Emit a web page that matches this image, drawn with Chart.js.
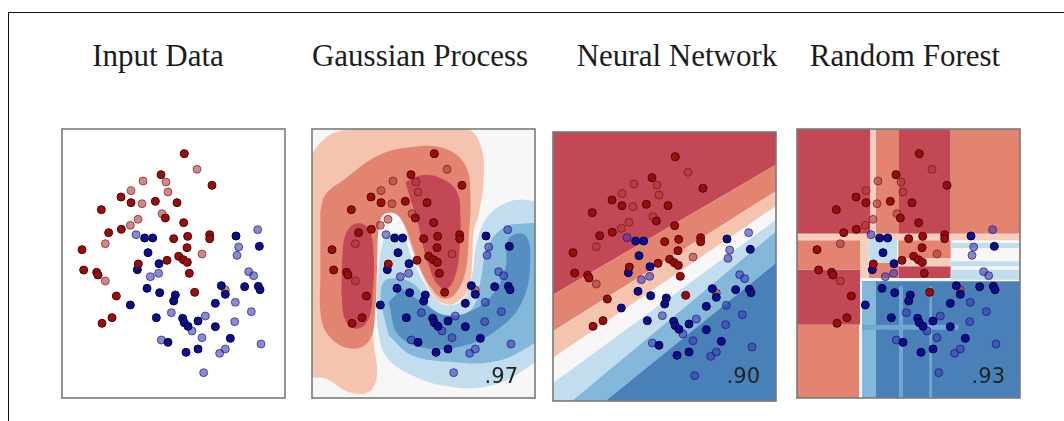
<!DOCTYPE html>
<html lang="en">
<head>
<meta charset="UTF-8">
<title>Classifier comparison</title>
<script src="https://cdn.jsdelivr.net/npm/chart.js"></script>
<style>
  body { margin: 0; background: #fff; width: 1064px; height: 421px; overflow: hidden; position: relative; }
  .frame { position: absolute; left: 8px; top: 12px; right: -2px; bottom: -2px; border-top: 1px solid #111; border-left: 1px solid #111; }
  .title { position: absolute; top: 41px; width: 300px; margin-left: -150px; text-align: center;
           font-family: "Liberation Serif", serif; font-size: 31px; line-height: 30px; color: #1c1c1c; white-space: nowrap; }
  .panel { position: absolute; width: 227px; height: 273px; }
  .score { position: absolute; top: 366px; font-family: "DejaVu Sans", sans-serif; font-size: 21px; line-height: 20px; color: #222; }
</style>
</head>
<body>
<div class="frame"></div>

<div class="title" style="left:158px">Input Data</div>
<div class="title" style="left:420px">Gaussian Process</div>
<div class="title" style="left:677px">Neural Network</div>
<div class="title" style="left:905px">Random Forest</div>

<div class="panel" style="left:60px; top:127px"><canvas id="inputChart"></canvas></div>
<div class="panel" style="left:310px; top:127px"><canvas id="gpChart"></canvas></div>
<div class="panel" style="left:551px; top:130px"><canvas id="nnChart"></canvas></div>
<div class="panel" style="left:795px; top:127px"><canvas id="rfChart"></canvas></div>

<div class="score" style="right:546px">.97</div>
<div class="score" style="right:304px">.90</div>
<div class="score" style="right:59px">.93</div>

<script>
    // points (same data set in every panel)
    const redTrain = [[3.67,7.33],[4.50,6.38],[2.97,6.70],[1.77,6.03],[2.07,5.86],[2.80,5.90],[3.45,5.86],[1.18,5.65],
        [3.10,5.40],[3.65,5.26],[1.78,5.06],[1.40,4.96],[0.60,4.45],[3.35,4.78],[3.77,4.85],[4.43,4.90],[4.43,4.78],
        [3.75,4.51],[3.50,4.25],[3.64,4.15],[3.76,4.07],[2.29,4.02],[3.15,4.13],[0.65,3.84],[1.04,3.77],[1.08,3.69],
        [3.82,3.74],[1.63,3.06],[3.98,3.17],[1.50,2.41],[1.20,2.24]];
    const redTest = [[4.05,6.86],[3.12,6.48],[3.18,6.18],[2.43,6.51],[2.07,6.22],[2.40,5.83],[3.00,5.53],[2.28,5.36],
        [2.05,5.18],[1.30,4.63],[4.20,4.32],[1.30,3.51],[4.90,3.24]];
    const blueTrain = [[2.48,4.80],[2.72,4.80],[2.58,4.36],[5.22,4.86],[5.92,4.55],[2.91,4.03],[2.26,3.85],[2.55,3.29],
        [2.93,3.16],[3.40,3.09],[3.35,2.91],[4.78,3.37],[4.90,3.11],[5.48,3.34],[5.89,3.35],[5.94,3.25],[2.05,2.79],
        [4.60,2.84],[2.83,2.41],[3.62,2.39],[3.67,2.26],[3.78,2.15],[4.08,2.31],[4.60,2.14],[3.18,1.67],[5.05,1.79],
        [3.72,1.37],[4.08,1.47]];
    const blueTest = [[2.22,4.90],[5.87,5.05],[5.30,4.53],[5.25,4.28],[2.65,3.64],[2.90,3.74],[5.60,3.79],[5.75,3.67],
        [5.20,2.87],[3.28,2.56],[4.30,2.46],[3.90,2.01],[5.18,2.29],[5.68,2.59],[2.98,1.74],[4.20,1.81],[5.97,1.62],
        [4.73,1.34],[4.90,1.47],[4.25,0.76]];

    // Gaussian process contour regions
    const gpPeach = [[-0.2,6.9],[0.2,7.6],[0.8,8.0],[2.5,8.2],[4.6,8.1],[5.05,7.6],[5.15,6.6],[5.0,5.5],[4.85,5.0],
        [4.8,4.0],[4.7,3.3],[4.45,2.95],[4.1,2.8],[3.7,3.0],[3.35,3.6],[3.1,4.2],[2.9,4.75],[2.7,5.3],[2.4,5.63],
        [2.1,5.58],[1.95,5.08],[1.9,3.88],[1.85,2.88],[1.85,1.68],[1.95,0.68],[1.7,0.18],[1.1,0.18],[0.4,0.58],[-0.2,0.6]];
    const gpSalmon = [[0.25,5.58],[0.4,6.1],[1.0,6.58],[2.0,7.28],[3.0,7.53],[4.0,7.48],[4.6,6.98],[4.75,6.08],
        [4.7,4.78],[4.6,3.78],[4.3,3.13],[3.95,2.98],[3.6,3.28],[3.25,3.88],[3.0,4.58],[2.78,5.18],[2.5,5.53],
        [2.15,5.5],[2.0,5.08],[1.95,3.88],[1.9,2.68],[1.75,1.78],[1.3,1.48],[0.7,1.68],[0.3,2.28],[0.25,3.9]];
    const gpRedLeft = [[0.9,4.08],[1.0,4.88],[1.3,5.23],[1.7,5.08],[1.85,4.28],[1.83,3.28],[1.7,2.38],[1.35,2.08],
        [1.0,2.33],[0.88,3.18]];
    const gpRedRight = [[2.8,6.48],[3.3,6.68],[3.9,6.58],[4.35,6.18],[4.45,5.48],[4.43,4.48],[4.3,3.68],[4.05,3.28],
        [3.75,3.43],[3.5,3.98],[3.3,4.68],[3.15,5.38],[2.95,5.98]];
    const gpBlueLight = [[1.95,3.38],[2.1,4.6],[2.3,4.88],[2.7,4.88],[3.0,4.18],[3.3,3.58],[3.7,2.98],[4.1,2.78],
        [4.55,2.98],[4.8,3.68],[4.95,4.68],[5.3,5.48],[5.9,5.88],[6.5,5.93],[7.0,5.68],[7.0,1.48],[6.4,0.88],
        [5.4,0.38],[4.2,0.33],[3.0,0.68],[2.2,1.28],[1.95,2.18]];
    const gpBlueMid = [[2.05,2.88],[2.15,3.48],[2.6,3.58],[3.1,3.38],[3.6,2.68],[4.2,2.48],[4.8,2.68],[5.05,3.48],
        [5.25,4.48],[5.7,5.08],[6.3,5.23],[7.0,5.08],[7.0,2.08],[6.4,1.48],[5.4,1.08],[4.2,1.08],[3.0,1.28],[2.3,1.88]];
    const gpBlueDark = [[2.3,2.88],[2.6,1.88],[3.5,1.48],[4.6,1.58],[5.6,2.08],[6.3,2.88],[6.55,4.08],[6.4,4.88],
        [5.9,4.78],[5.8,3.88],[5.4,3.08],[4.7,2.58],[4.0,2.48],[3.3,2.88],[2.7,3.28]];

    // neural network: band boundaries, y at the left and right edge of the panel
    const nnEdgeX = [0, 6.69];
    const nnBounds = [[3.19,7.09],[2.09,6.29],[1.29,5.84],[0.54,5.44],[-0.47,5.09],[-1.27,4.14]];

    // random forest cells [x0, x1, y0, y1]
    const rfDarkRed = [[0,2.20,4.93,8.2],[3.04,4.61,4.93,8.2],[0,1.89,2.20,3.85],[3.04,4.61,3.60,3.95]];
    const rfSalmon = [[2.36,3.04,4.93,8.2],[4.61,6.8,4.93,8.2],[0,1.89,3.85,4.73],[0,1.86,-0.1,2.20],
        [3.04,4.61,4.20,4.73],[2.15,3.04,3.60,4.05]];
    const rfPale = [[2.20,2.36,4.93,8.2],[0,6.8,4.73,4.93],[3.04,4.61,3.95,4.20],[1.89,2.15,3.60,4.73]];
    const rfLight = [[2.15,3.0,4.05,4.75],[4.61,6.8,4.50,4.65],[4.61,6.8,3.95,4.10],[4.61,6.8,3.55,3.85],
        [1.95,4.61,3.35,3.50]];
    const rfDarkBlue = [[1.95,6.8,-0.1,3.50]];
    const rfMidBlue = [[1.95,2.37,-0.1,3.50]];
    const rfStripes = [[3.06,3.18,-0.1,3.35],[3.97,4.05,-0.1,3.35],[1.95,4.84,2.05,2.20]];

    const col = {
        darkRed: 'rgb(195,72,86)', salmon: 'rgb(226,132,112)', peach: 'rgb(245,196,175)', pale: 'rgb(246,206,190)',
        white: 'rgb(247,247,247)', lightBlue: 'rgb(194,221,237)', midBlue: 'rgb(132,184,219)',
        darkBlue: 'rgb(74,128,184)', gpDarkBlue: 'rgb(86,142,194)', stripe: 'rgb(112,166,208)'
    };

    const toPts = arr => arr.map(([x, y]) => ({x, y}));
    const rectPts = ([x0, x1, y0, y1]) => [[x0, y0], [x1, y0], [x1, y1], [x0, y1]];
    const whole = [[-1, -1], [8, -1], [8, 9], [-1, 9]];

    const borderPlugin = {
        id: 'panelBorder',
        afterDraw(chart) {
            const {ctx, chartArea: a} = chart;
            ctx.save();
            ctx.strokeStyle = '#7a7a7a';
            ctx.lineWidth = 1.6;
            ctx.strokeRect(a.left, a.top, a.width, a.height);
            ctx.restore();
        }
    };

    function pointSets() {
        const s = (data, fill, edge) => ({data: toPts(data), backgroundColor: fill, borderColor: edge,
            pointRadius: 4, borderWidth: 1, order: 0});
        return [
            s(redTrain, 'rgb(150,14,14)', 'rgb(85,0,0)'),
            s(blueTrain, 'rgb(12,12,140)', 'rgb(0,0,70)'),
            s(redTest, 'rgba(175,55,55,0.6)', 'rgba(110,10,10,0.6)'),
            s(blueTest, 'rgba(60,60,180,0.6)', 'rgba(10,10,110,0.6)')
        ];
    }

    function makePanel(id, regions) {
        const sets = pointSets();
        regions.forEach((r, i) => sets.push({
            data: toPts(r.pts), showLine: true, fill: 'shape', backgroundColor: r.color,
            borderWidth: 0, pointRadius: 0, pointHoverRadius: 0, tension: r.tension || 0,
            order: regions.length - i + 1
        }));
        new Chart(document.getElementById(id), {
            type: 'scatter',
            data: {datasets: sets},
            options: {
                responsive: true,
                maintainAspectRatio: false,
                animation: false,
                events: [],
                layout: {padding: 2, autoPadding: false},
                plugins: {legend: {display: false}, tooltip: {enabled: false}},
                scales: {
                    x: {type: 'linear', min: 0, max: 6.69, display: false},
                    y: {type: 'linear', min: 0, max: 8.07, display: false}
                }
            },
            plugins: [borderPlugin]
        });
    }

    // 1. Input data
    makePanel('inputChart', []);

    // 2. Gaussian process
    makePanel('gpChart', [
        {pts: whole, color: col.white},
        {pts: gpPeach, color: col.peach, tension: 0.4},
        {pts: gpSalmon, color: col.salmon, tension: 0.4},
        {pts: gpRedLeft, color: col.darkRed, tension: 0.4},
        {pts: gpRedRight, color: col.darkRed, tension: 0.4},
        {pts: gpBlueLight, color: col.lightBlue, tension: 0.4},
        {pts: gpBlueMid, color: col.midBlue, tension: 0.4},
        {pts: gpBlueDark, color: col.gpDarkBlue, tension: 0.4}
    ]);

    // 3. Neural network
    const nnColors = [col.darkRed, col.salmon, col.peach, col.white, col.lightBlue, col.midBlue, col.darkBlue];
    const nnRegions = nnColors.map((c, k) => {
        const up = k === 0 ? [9, 9] : nnBounds[k - 1];
        const lo = k === nnBounds.length ? [-3, -3] : nnBounds[k];
        return {pts: [[nnEdgeX[0], up[0]], [nnEdgeX[1], up[1]], [nnEdgeX[1], lo[1]], [nnEdgeX[0], lo[0]]], color: c};
    });
    makePanel('nnChart', nnRegions);

    // 4. Random forest
    const rfRegions = [{pts: whole, color: col.white}];
    const addCells = (cells, c) => cells.forEach(cell => rfRegions.push({pts: rectPts(cell), color: c}));
    addCells(rfDarkRed, col.darkRed);
    addCells(rfSalmon, col.salmon);
    addCells(rfPale, col.pale);
    addCells(rfLight, col.lightBlue);
    addCells(rfDarkBlue, col.darkBlue);
    addCells(rfMidBlue, col.midBlue);
    addCells(rfStripes, col.stripe);
    makePanel('rfChart', rfRegions);
</script>
</body>
</html>
